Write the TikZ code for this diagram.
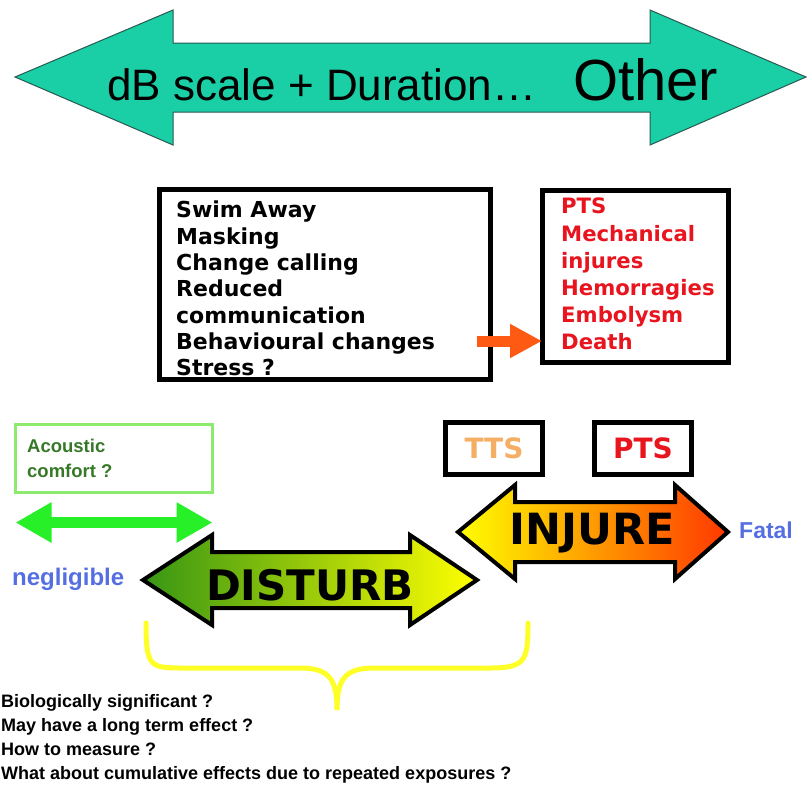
\documentclass[tikz,border=0pt]{standalone}
\usepackage{fontspec}
\setmainfont{Liberation Sans}
\newfontfamily\heavyfont{DejaVu Sans}
\usetikzlibrary{arrows.meta,positioning}
\usepackage{xcolor}

\definecolor{tealfill}{RGB}{26,206,166}
\definecolor{tealline}{RGB}{40,90,80}
\definecolor{effred}{RGB}{232,20,30}
\definecolor{ttsorange}{RGB}{245,175,100}
\definecolor{comfortline}{RGB}{140,235,110}
\definecolor{comfortgreen}{RGB}{55,120,40}
\definecolor{arrowgreen}{RGB}{40,240,40}
\definecolor{labelblue}{RGB}{85,110,225}
\definecolor{orangearrow}{RGB}{255,90,20}
\definecolor{disturbgreen}{RGB}{55,150,20}
\definecolor{injurered}{RGB}{255,55,0}
\definecolor{bracey}{RGB}{255,255,40}

\begin{document}
\begin{tikzpicture}[
            x=1pt, y=-1pt,
            node distance=52pt,
            frame/.style={rectangle, draw, line width=5pt, outer sep=0pt, inner sep=0pt},
            listtext/.style={align=left, inner sep=0pt, anchor=north west, font=\heavyfont\bfseries\fontsize{22}{26.3}\selectfont},
            bigword/.style={inner sep=0pt, font=\heavyfont\bfseries\fontsize{42}{42}\selectfont},
            label/.style={anchor=base west, inner sep=0pt, text=labelblue, font=\bfseries\fontsize{24}{24}\selectfont},
            fatshape/.style={draw, line width=4pt, line join=miter},
            fatarrow/.style={draw=orangearrow, line width=11pt, -{Triangle[length=32pt,width=32pt]}},
            greenarrow/.style={draw=arrowgreen, line width=11pt, {Triangle[length=36pt,width=38pt]}-{Triangle[length=36pt,width=38pt]}},
            brace/.style={draw=bracey, line width=5pt, line cap=round}
        ]
            \useasboundingbox (0,0) rectangle (808,796);

            % --- SCALE ARROW (top) ---
            \path[draw=tealline, fill=tealfill, line width=1pt]
                (15,77) -- (173,10) -- (173,43) -- (650,43) -- (650,10) -- (806,77)
                -- (650,145) -- (650,112) -- (173,112) -- (173,145) -- cycle;
            \node[anchor=base west, inner sep=0pt, font=\fontsize{44}{44}\selectfont] (scale) at (107,100) {dB scale + Duration…};
            \node[anchor=base west, inner sep=0pt, font=\fontsize{58}{58}\selectfont] (other) at (573,100) {Other};

            % --- EFFECTS (boxes) ---
            \node[frame, minimum width=330.5pt, minimum height=190pt, anchor=north west] (effbox) at (159.5,189.5) {};
            \node[listtext] (effects) at (176,201) {Swim Away\\Masking\\Change calling\\Reduced\\communication\\Behavioural changes\\Stress ?};

            \node[frame, minimum width=186pt, minimum height=172pt, anchor=north west] (injbox) at (542,190) {};
            \node[listtext, text=effred, font=\heavyfont\bfseries\fontsize{21.2}{27.2}\selectfont] (injuries) at (561,198) {PTS\\Mechanical\\injures\\Hemorragies\\Embolysm\\Death};

            \coordinate (oa) at (477,341);
            \draw[fatarrow] (oa) -- (injbox.west |- oa);

            % --- THRESHOLDS ---
            \node[frame, minimum width=97pt, minimum height=52pt, anchor=north west, text=ttsorange, font=\heavyfont\bfseries\fontsize{28}{28}\selectfont] (ttsbox) at (445.5,422.5) {TTS};
            \node[frame, minimum width=97pt, minimum height=52pt, right=of ttsbox, text=effred, font=\heavyfont\bfseries\fontsize{28}{28}\selectfont] (ptsbox) {PTS};

            \node[draw=comfortline, line width=3.5pt, outer sep=0pt, minimum width=197pt, minimum height=68pt, anchor=north west] (comfortbox) at (15.5,424.5) {};
            \node[anchor=north west, align=left, inner sep=0pt, text=comfortgreen, font=\bfseries\fontsize{18.5}{24.5}\selectfont] (comfort) at (27,439) {Acoustic\\comfort ?};
            \draw[greenarrow] (comfortbox.west |- 0,522.5) -- (comfortbox.east |- 0,522.5);

            % --- DISTURB / INJURE ---
            \path[fatshape, left color=disturbgreen, right color=yellow]
                (143,580) -- (212,535) -- (212,552) -- (410,552) -- (410,535) -- (477,580)
                -- (410,625) -- (410,608) -- (212,608) -- (212,625) -- cycle;
            \node[bigword] (disturb) at (310,585) {DISTURB};

            \path[fatshape, left color=yellow, right color=injurered]
                (458,532) -- (515,485) -- (515,502) -- (675,502) -- (675,485) -- (728,532)
                -- (675,579) -- (675,562) -- (515,562) -- (515,579) -- cycle;
            \node[bigword, font=\heavyfont\bfseries\fontsize{43}{43}\selectfont] (injure) at (592,533) {INJURE};

            \node[label] (negligible) at (12,585) {negligible};
            \node[label, font=\bfseries\fontsize{23}{23}\selectfont] (fatal) at (739,538) {Fatal};

            % --- QUESTIONS ---
            \draw[brace] (146,623) .. controls (146,668) and (150,668) .. (185,668) -- (300,668)
                .. controls (330,668) and (337,680) .. (337,710)
                .. controls (337,680) and (344,668) .. (374,668) -- (490,668)
                .. controls (526,668) and (528,660) .. (528,623);
            \node[anchor=north west, align=left, inner sep=0pt, font=\bfseries\fontsize{18}{24}\selectfont] (questions) at (1,694) {Biologically significant ?\\May have a long term effect ?\\How to measure ?\\What about cumulative effects due to repeated exposures ?};
        \end{tikzpicture}
\end{document}
